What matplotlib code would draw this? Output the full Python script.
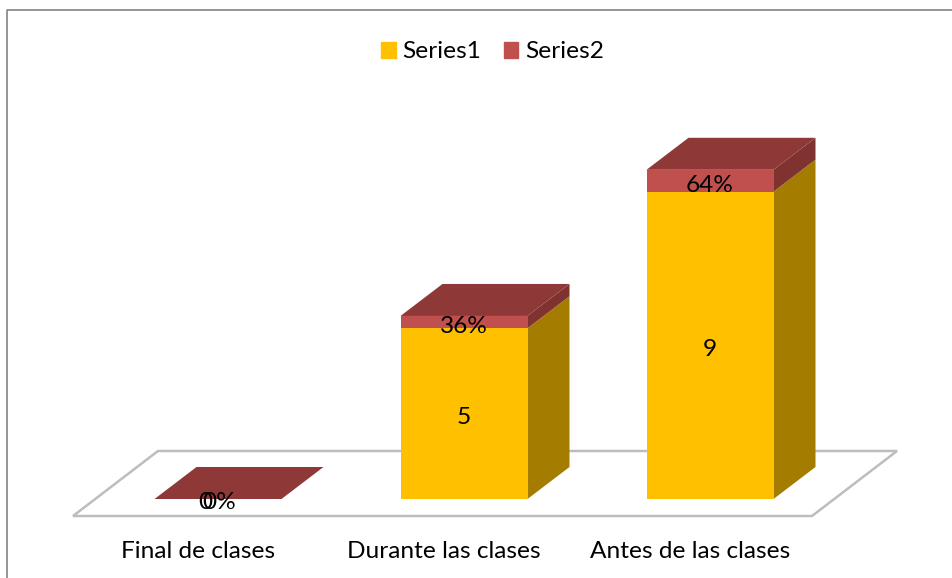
import matplotlib
matplotlib.use("Agg")
import matplotlib.pyplot as plt
from matplotlib.patches import Patch

categories = ["Final de clases", "Durante las clases", "Antes de las clases"]
series1 = [0, 5, 9]
series2 = [0, 0.36, 0.64]
labels1 = ["0", "5", "9"]
labels2 = ["0%", "36%", "64%"]

YELLOW = "#FFC000"
YELLOW_SIDE = "#A47C00"
RED = "#C0504D"
RED_TOP = "#8E3937"
RED_SIDE = "#7F322F"
GRID = "#BDBDBD"

W, H = 952, 578
# pixel geometry of the pseudo 3d plot
X0, STEP = 218, 246
Y0, UNIT = 499, 34.15
BAR_W = 127 / STEP
DX = 42 / STEP
DY = 32 / UNIT

plt.rcParams["font.family"] = ["Lato", "DejaVu Sans"]
fig = plt.figure(figsize=(W / 100, H / 100), dpi=100)
ax = fig.add_axes([0, 0, 1, 1])
ax.set_xlim(-X0 / STEP, (W - X0) / STEP)
ax.set_ylim((Y0 - H) / UNIT, Y0 / UNIT)
ax.axis("off")


def px(x):
    return (x - X0) / STEP


def py(y):
    return (Y0 - y) / UNIT


# chart frame, only left and top edges are visible
ax.plot([px(7), px(7), px(W)], [py(H), py(10), py(10)], color="#8C8C8C", lw=1.3, zorder=1)

# floor
ax.fill([px(73), px(812), px(897), px(158)], [py(516), py(516), py(451), py(451)],
        facecolor="white", edgecolor=GRID, lw=1.8, zorder=1)

for i in range(len(categories)):
    l = i - BAR_W / 2
    r = i + BAR_W / 2
    s1 = series1[i]
    top = s1 + series2[i]
    if top > 0:
        ax.fill([r, r + DX, r + DX, r], [0, DY, s1 + DY, s1], color=YELLOW_SIDE, lw=0, zorder=2)
        ax.fill([r, r + DX, r + DX, r], [s1, s1 + DY, top + DY, top], color=RED_SIDE, lw=0, zorder=2)
    ax.fill([l, r, r + DX, l + DX], [top, top, top + DY, top + DY], color=RED_TOP, lw=0, zorder=2)

ax.bar(range(3), series1, width=BAR_W, color=YELLOW, linewidth=0, zorder=3)
ax.bar(range(3), series2, width=BAR_W, bottom=series1, color=RED, linewidth=0, zorder=3)

FS = 17.6
for i in range(len(categories)):
    s1 = series1[i]
    s2 = series2[i]
    if s1 > 0:
        ax.text(i, s1 / 2 - 0.11, labels1[i], ha="center", va="center", fontsize=FS, color="black", zorder=5)
        ax.text(i, s1 + s2 / 2 - 0.13, labels2[i], ha="center", va="center", fontsize=FS, color="black", zorder=5)
    else:
        ax.text(i - 0.05, -0.1, labels1[i], ha="center", va="center", fontsize=FS, color="black", zorder=5)
        ax.text(i + 0.006, -0.1, labels2[i], ha="center", va="center", fontsize=FS, color="black", zorder=5)
    ax.text(i - 0.082, py(552), categories[i], ha="center", va="center",
            fontsize=FS, color="black", zorder=5)

handles = [Patch(color=YELLOW, label="Series1"), Patch(color=RED, label="Series2")]
ax.legend(handles=handles, loc="center", bbox_to_anchor=(px(492.5), py(52)), bbox_transform=ax.transData,
          ncol=2, frameon=False, fontsize=FS, handlelength=0.61, handleheight=0.61,
          handletextpad=0.29, columnspacing=0.9)

fig.savefig("out.png", dpi=100)
